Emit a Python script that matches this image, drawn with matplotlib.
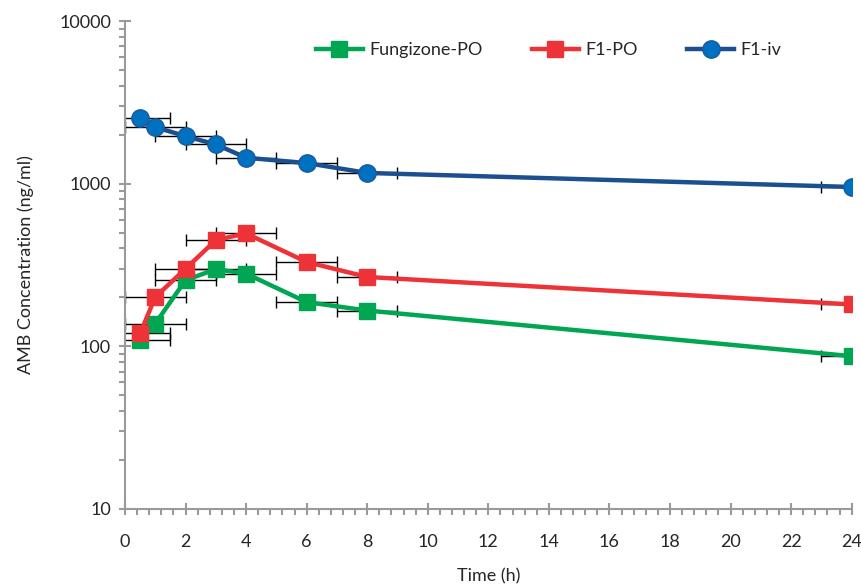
import matplotlib.pyplot as plt
import numpy as np
from matplotlib.ticker import LogLocator, NullFormatter, MultipleLocator, FixedLocator

plt.rcParams['font.family'] = ['Lato', 'DejaVu Sans']

# time points (h) and concentrations (ng/ml)
t = [0.5, 1, 2, 3, 4, 6, 8, 24]
fungizone_po = [110, 138, 255, 298, 280, 187, 166, 87]
f1_po = [120, 201, 300, 450, 495, 330, 267, 181]
f1_iv = [2520, 2230, 1960, 1745, 1445, 1340, 1165, 955]
t_err = [1, 1, 1, 1, 1, 1, 1, 1]

fig = plt.figure(figsize=(8.62, 5.87), dpi=100)
ax = fig.add_axes([0.145, 0.133, 0.843, 0.831])

series = [
    ("Fungizone-PO", fungizone_po, "#00A651", "s", "#00A651", "#00A651", 11),
    ("F1-PO", f1_po, "#EE3338", "s", "#EE3338", "#EE3338", 11),
    ("F1-iv", f1_iv, "#1B4F8F", "o", "#0070C0", "#1B5A9A", 12.5),
]

for name, y, lc, mk, fc, ec, ms in series:
    eb = ax.errorbar(t, y, xerr=t_err, fmt="none", ecolor="black", elinewidth=1,
                     capsize=4, capthick=1, zorder=2)
    for a in eb.get_children():
        a.set_clip_on(True)
        a.set_clip_box(ax.bbox)
    ax.plot(t, y, color=lc, lw=3.2, marker=mk, ms=ms, mfc=fc, mec=ec,
            mew=1, label=name, zorder=3)

ax.set_yscale("log")
ax.set_ylim(10, 10000)
ax.set_xlim(0, 24)
ax.xaxis.set_major_locator(MultipleLocator(2))
ax.xaxis.set_minor_locator(MultipleLocator(0.4))
ax.yaxis.set_major_locator(FixedLocator([10, 100, 1000, 10000]))
ax.yaxis.set_major_formatter(plt.FuncFormatter(lambda v, p: f"{int(v)}"))
ax.yaxis.set_minor_locator(LogLocator(base=10, subs=np.arange(2, 10)))
ax.yaxis.set_minor_formatter(NullFormatter())

for s in ["top", "right"]:
    ax.spines[s].set_visible(False)
for s in ["left", "bottom"]:
    ax.spines[s].set_color("#9A9A9A")
    ax.spines[s].set_linewidth(1.5)

ax.tick_params(which="major", direction="inout", length=8, width=1.5,
               color="#9A9A9A", labelsize=13, labelcolor="#262626", pad=6)
ax.tick_params(which="minor", direction="out", length=4, width=1.5,
               color="#9A9A9A")
ax.tick_params(axis="x", which="major", pad=14)

ax.set_xlabel("Time (h)", fontsize=13, color="#262626", labelpad=13)
ax.set_ylabel("AMB Concentration (ng/ml)", fontsize=13, color="#262626",
              labelpad=18)

leg = ax.legend(loc="upper left", bbox_to_anchor=(0.24, 0.99), ncol=3,
                frameon=False, fontsize=13, handlelength=2.6,
                columnspacing=2.75, handletextpad=0.35, labelcolor="#262626")

fig.savefig("out.png", dpi=100)
